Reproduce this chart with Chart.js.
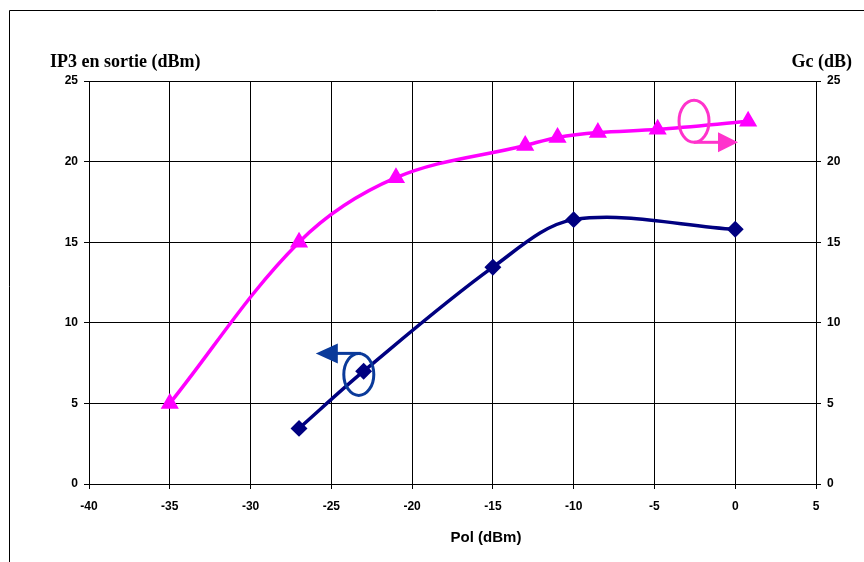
<!DOCTYPE html>
<html>
<head>
<meta charset="utf-8">
<script src="https://cdn.jsdelivr.net/npm/chart.js@4"></script>
<style>
  html, body { margin: 0; padding: 0; background: #fff; }
  canvas { display: block; }
</style>
</head>
<body>
<canvas id="graphique" width="864" height="562"></canvas>
<script>
// Gc (dB) en fonction de la polarisation (triangles roses, axe de droite)
const polGc = [-35, -27, -21, -13, -11, -8.5, -4.8, 0.8];
const valeursGc = [5, 15, 19, 21, 21.5, 21.8, 22, 22.5];

// IP3 en sortie (dBm) (losanges bleus, axe de gauche)
const polIP3 = [-27, -23, -15, -10, 0];
const valeursIP3 = [3.45, 7, 13.45, 16.4, 15.8];

const ticksX = [-40, -35, -30, -25, -20, -15, -10, -5, 0, 5];
const ticksY = [0, 5, 10, 15, 20, 25];

const policeTicks = { family: "'Liberation Sans', Arial, sans-serif", size: 12, weight: "bold" };

// Cadre, titres des axes et repères (ellipses + flèches)
const decorations = {
    id: "decorations",
    beforeDraw(chart) {
        const ctx = chart.ctx;
        ctx.save();
        ctx.strokeStyle = "#000";
        ctx.lineWidth = 1;
        ctx.beginPath();
        ctx.moveTo(9.5, 562);
        ctx.lineTo(9.5, 10.5);
        ctx.lineTo(864, 10.5);
        ctx.stroke();
        ctx.restore();
    },
    afterDatasetsDraw(chart) {
        const ctx = chart.ctx;
        const sx = chart.scales.x;
        const sy = chart.scales.y;
        ctx.save();

        // repère bleu : IP3 -> axe de gauche
        let cx = sx.getPixelForValue(-23.3);
        let cy = sy.getPixelForValue(6.8);
        ctx.strokeStyle = "#0a3a9a";
        ctx.fillStyle = "#0a3a9a";
        ctx.lineWidth = 3;
        ctx.beginPath();
        ctx.ellipse(cx, cy, 15, 21, 0, 0, Math.PI * 2);
        ctx.stroke();
        ctx.beginPath();
        ctx.moveTo(cx + 2, cy - 21);
        ctx.lineTo(cx - 22, cy - 21);
        ctx.stroke();
        ctx.beginPath();
        ctx.moveTo(cx - 43, cy - 21);
        ctx.lineTo(cx - 21, cy - 31);
        ctx.lineTo(cx - 21, cy - 11);
        ctx.closePath();
        ctx.fill();

        // repère rose : Gc -> axe de droite
        cx = sx.getPixelForValue(-2.55);
        cy = sy.getPixelForValue(22.5);
        ctx.strokeStyle = "#ff33cc";
        ctx.fillStyle = "#ff33cc";
        ctx.beginPath();
        ctx.ellipse(cx, cy, 15, 21, 0, 0, Math.PI * 2);
        ctx.stroke();
        ctx.beginPath();
        ctx.moveTo(cx, cy + 21);
        ctx.lineTo(cx + 26, cy + 21);
        ctx.stroke();
        ctx.beginPath();
        ctx.moveTo(cx + 44, cy + 21);
        ctx.lineTo(cx + 24, cy + 11);
        ctx.lineTo(cx + 24, cy + 31);
        ctx.closePath();
        ctx.fill();

        // titres
        ctx.fillStyle = "#000";
        ctx.textBaseline = "middle";
        ctx.font = "bold 18px 'Liberation Serif', 'Times New Roman', serif";
        ctx.textAlign = "left";
        ctx.fillText("IP3 en sortie (dBm)", 50, 62);
        ctx.textAlign = "right";
        ctx.fillText("Gc (dB)", 852, 62);
        ctx.font = "bold 15px 'Liberation Sans', Arial, sans-serif";
        ctx.textAlign = "center";
        ctx.fillText("Pol (dBm)", 486, 538);
        ctx.restore();
    }
};

const data = {
    datasets: [{
        label: "Gc (dB)",
        data: polGc.map((x, i) => ({ x: x, y: valeursGc[i] })),
        yAxisID: "y1",
        borderColor: "#ff00ff",
        backgroundColor: "#ff00ff",
        borderWidth: 3.5,
        pointStyle: "triangle",
        pointRadius: 7,
        tension: 0.35
    }, {
        label: "IP3 en sortie (dBm)",
        data: polIP3.map((x, i) => ({ x: x, y: valeursIP3[i] })),
        yAxisID: "y",
        borderColor: "#000080",
        backgroundColor: "#000080",
        borderWidth: 3.5,
        pointStyle: "rectRot",
        pointRadius: 6,
        tension: 0.33
    }]
};

const config = {
    type: "line",
    data: data,
    options: {
        responsive: false,
        animation: false,
        layout: { padding: { top: 81, left: 0, right: 0, bottom: 0 } },
        plugins: { legend: { display: false }, tooltip: { enabled: false } },
        scales: {
            x: {
                type: "linear",
                min: -40,
                max: 5,
                afterBuildTicks: s => { s.ticks = ticksX.map(v => ({ value: v })); },
                afterFit: s => { s.height = 78; },
                ticks: { color: "#000", font: policeTicks, padding: 10 },
                grid: { color: "#000", lineWidth: 1, tickLength: 5 },
                border: { color: "#000", width: 1 }
            },
            y: {
                position: "left",
                min: 0,
                max: 25,
                afterBuildTicks: s => { s.ticks = ticksY.map(v => ({ value: v })); },
                afterFit: s => { s.width = 89; },
                ticks: { color: "#000", font: policeTicks, padding: 6 },
                grid: { color: "#000", lineWidth: 1, tickLength: 5 },
                border: { color: "#000", width: 1 }
            },
            y1: {
                position: "right",
                min: 0,
                max: 25,
                afterBuildTicks: s => { s.ticks = ticksY.map(v => ({ value: v })); },
                afterFit: s => { s.width = 48; },
                ticks: { color: "#000", font: policeTicks, padding: 6 },
                grid: { drawOnChartArea: false, color: "#000", tickLength: 5 },
                border: { color: "#000", width: 1 }
            }
        }
    },
    plugins: [decorations]
};

const graphique = new Chart(document.querySelector("#graphique"), config);
</script>
</body>
</html>
